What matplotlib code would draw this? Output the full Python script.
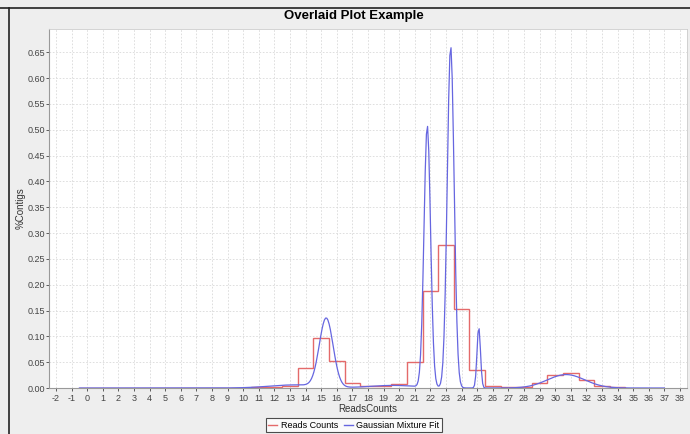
import numpy as np
import matplotlib
matplotlib.use("Agg")
import matplotlib.pyplot as plt
from matplotlib.lines import Line2D

plt.rcParams["font.family"] = ["Liberation Sans", "DejaVu Sans"]
plt.rcParams["axes.unicode_minus"] = False

# histogram of reads counts (bins centred on integers 0..34)
bin_centres = list(range(0, 35))
reads_pct = [0.0, 0.0, 0.0, 0.0, 0.0, 0.0, 0.0, 0.0, 0.0, 0.0,
             0.0, 0.001, 0.002, 0.004, 0.039, 0.096, 0.053, 0.009, 0.004, 0.003,
             0.007, 0.050, 0.187, 0.276, 0.152, 0.034, 0.004, 0.001, 0.001, 0.010,
             0.026, 0.030, 0.016, 0.004, 0.001]

# gaussian mixture components
fit_means = [13.3, 15.32, 19.6, 21.8, 23.3, 25.1, 30.7]
fit_peaks = [0.006, 0.133, 0.005, 0.507, 0.662, 0.118, 0.026]
fit_sigmas = [1.6, 0.44, 1.5, 0.21, 0.22, 0.11, 1.2]
fit_range = (-0.5, 37.0)

y_ticks = [0.00, 0.05, 0.10, 0.15, 0.20, 0.25, 0.30, 0.35, 0.40, 0.45,
           0.50, 0.55, 0.60, 0.65]
x_ticks = list(range(-2, 39))

red = "#e46a6a"
blue = "#6666e0"
bg = "#eeeeee"

fig = plt.figure(figsize=(6.9, 4.34), dpi=100, facecolor=bg)
ax = fig.add_axes([49 / 690, 1 - 388 / 434, (687 - 49) / 690, (388 - 29) / 434])
ax.set_facecolor("white")

# red step histogram
edges = np.array(bin_centres + [bin_centres[-1] + 1]) - 0.5
ax.stairs(reads_pct, edges, color=red, lw=1.0, zorder=3)

# blue mixture curve
xs = np.linspace(fit_range[0], fit_range[1], 500)
ys = np.zeros_like(xs)
for m, h, s in zip(fit_means, fit_peaks, fit_sigmas):
    ys += h * np.exp(-0.5 * ((xs - m) / s) ** 2)
ax.plot(xs, ys, color=blue, lw=0.9, zorder=4)

ax.set_xlim(-2.45, 38.45)
ax.set_ylim(0, 0.695)
ax.set_xticks(x_ticks)
ax.set_yticks(y_ticks)
ax.set_yticklabels([f"{v:.2f}" for v in y_ticks])
ax.tick_params(labelsize=6.5, colors="#444444", length=2, width=0.6, pad=2)
ax.tick_params(axis="y", pad=1)
ax.grid(True, color="#d9d9d9", lw=0.6, ls=(0, (2, 2)))
ax.set_axisbelow(True)
for side in ["top", "right"]:
    ax.spines[side].set_color("#cccccc")
    ax.spines[side].set_linewidth(0.6)
for side in ["left", "bottom"]:
    ax.spines[side].set_color("#999999")
    ax.spines[side].set_linewidth(0.8)

ax.set_xlabel("ReadsCounts", fontsize=7, color="#333333")
ax.xaxis.set_label_coords(0.5, -16 / 359)
ax.set_ylabel("%Contigs", fontsize=7, color="#333333")
ax.yaxis.set_label_coords(-23 / 638, 0.5)
fig.text(354 / 690, 1 - 16 / 434, "Overlaid Plot Example", ha="center",
         va="center", fontsize=9.5, fontweight="bold")

# panel frame (top and left visible)
fig.add_artist(Line2D([0, 1], [1 - 8 / 434] * 2, color="#222222", lw=1.2,
                      transform=fig.transFigure))
fig.add_artist(Line2D([8.5 / 690] * 2, [0, 1 - 8 / 434], color="#222222", lw=1.2,
                      transform=fig.transFigure))

handles = [Line2D([], [], color=red, lw=1), Line2D([], [], color=blue, lw=1)]
leg = fig.legend(handles, ["Reads Counts", "Gaussian Mixture Fit"], ncol=2,
                 loc="upper center", bbox_to_anchor=(354 / 690, 1 - 418 / 434),
                 fontsize=6.5, frameon=True, fancybox=False, handlelength=1.0,
                 handletextpad=0.4, columnspacing=0.6, borderpad=0.3,
                 borderaxespad=0)
leg.get_frame().set_edgecolor("#222222")
leg.get_frame().set_linewidth(0.8)

fig.savefig("out.png", dpi=100, facecolor=bg)
